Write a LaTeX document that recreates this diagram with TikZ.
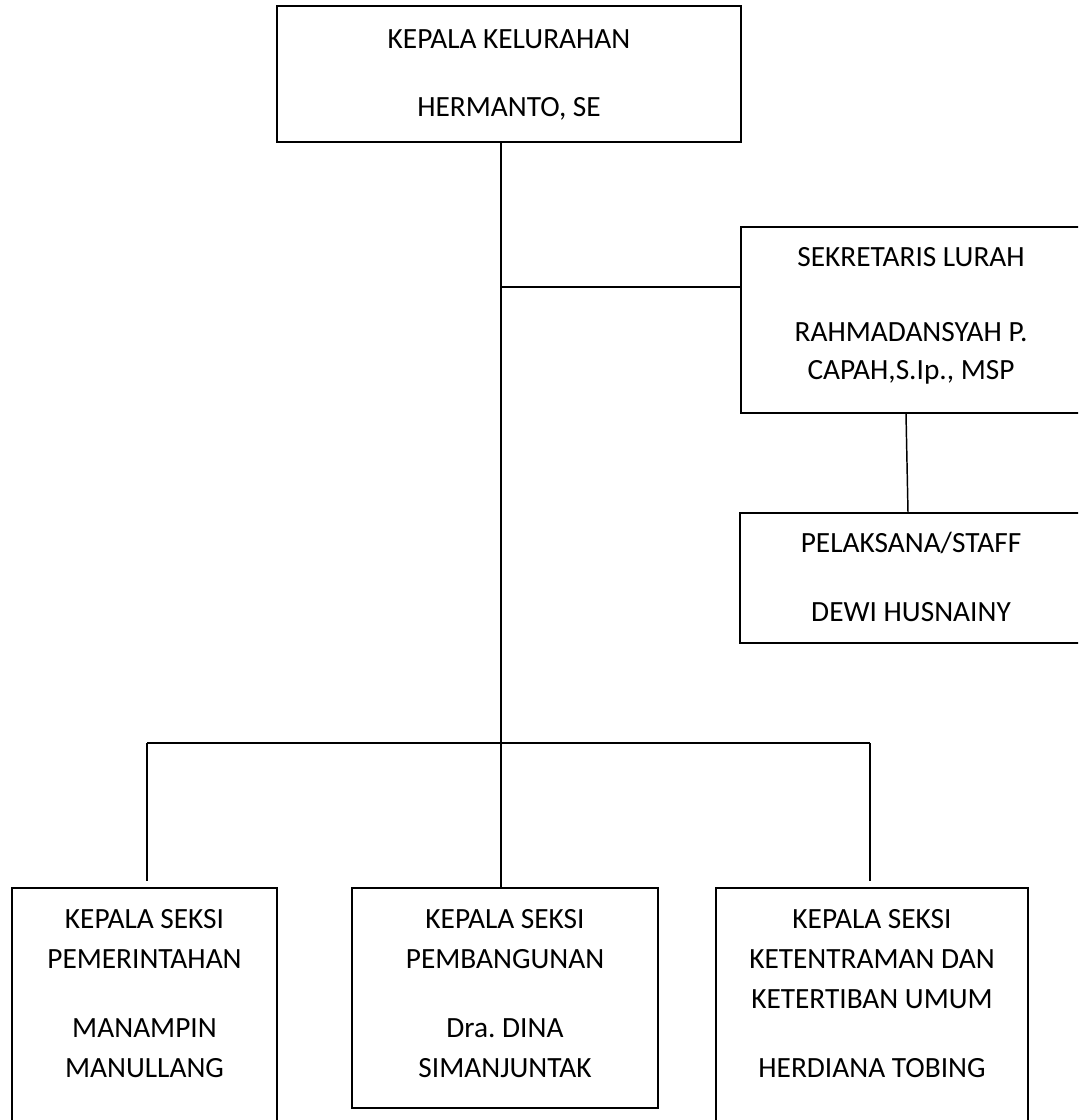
\documentclass[tikz,border=0pt]{standalone}
\usepackage{fontspec}
\setmainfont{Carlito}
\frenchspacing
\begin{document}
\begin{tikzpicture}[x=0.75pt,y=-0.75pt,
  box/.style={draw,rectangle,inner sep=0pt,line width=1.1pt},
  lbl/.style={anchor=base,inner sep=0pt,font=\fontsize{22}{26}\selectfont},
  conn/.style={line width=1.1pt}]
\useasboundingbox (0,0) rectangle (1078,1120);
\clip (0,0) rectangle (1078,1120);
% boxes
\node[box,minimum width=464*0.75pt,minimum height=136*0.75pt] (kk) at (509,74) {};
\node[box,minimum width=341*0.75pt,minimum height=186*0.75pt] (sek) at (911.5,320) {};
\node[box,minimum width=342*0.75pt,minimum height=130*0.75pt] (pel) at (911,578) {};
\node[box,minimum width=265*0.75pt,minimum height=252*0.75pt] (ksp) at (144.5,1014) {};
\node[box,minimum width=306*0.75pt,minimum height=220*0.75pt] (ksb) at (505,998) {};
\node[box,minimum width=312*0.75pt,minimum height=252*0.75pt] (kst) at (872,1014) {};
% texts
\node[lbl] (kk1) at (509,49) {KEPALA KELURAHAN};
\node[lbl] (kk2) at (509,117) {HERMANTO, SE};
\node[lbl] (sk1) at (911,266) {SEKRETARIS LURAH};
\node[lbl] (sk2) at (911,341) {RAHMADANSYAH P.};
\node[lbl] (sk3) at (911,379) {CAPAH,S.Ip., MSP};
\node[lbl] (pl1) at (911,552) {PELAKSANA/STAFF};
\node[lbl] (pl2) at (911,621) {DEWI HUSNAINY};
\node[lbl] (kp1) at (144.5,928) {KEPALA SEKSI};
\node[lbl] (kp2) at (144.5,968) {PEMERINTAHAN};
\node[lbl] (kp3) at (144.5,1037) {MANAMPIN};
\node[lbl] (kp4) at (144.5,1077) {MANULLANG};
\node[lbl] (kb1) at (505,928) {KEPALA SEKSI};
\node[lbl] (kb2) at (505,968) {PEMBANGUNAN};
\node[lbl] (kb3) at (505,1037) {Dra. DINA};
\node[lbl] (kb4) at (505,1077) {SIMANJUNTAK};
\node[lbl] (kt1) at (872,928) {KEPALA SEKSI};
\node[lbl] (kt2) at (872,968) {KETENTRAMAN DAN};
\node[lbl] (kt3) at (872,1008) {KETERTIBAN UMUM};
\node[lbl] (kt4) at (872,1077) {HERDIANA TOBING};
% junctions
\coordinate (jT) at (501,287);
\coordinate (jB) at (501,743);
\coordinate (bl) at (147,743);
\coordinate (br) at (870,743);
% connectors
\draw[conn] (jB |- kk.south) -- (jB);
\draw[conn] (jT) -- (jT -| sek.west);
\draw[conn] ([xshift=-4.125pt]sek.south) -- ([xshift=-2.25pt]pel.north);
\draw[conn] (bl) -- (br);
\draw[conn,shorten >=4.5pt] (bl) -- (bl |- ksp.north);
\draw[conn] (jB) -- (jB |- ksb.north);
\draw[conn,shorten >=4.5pt] (br) -- (br |- kst.north);
\end{tikzpicture}
\end{document}
